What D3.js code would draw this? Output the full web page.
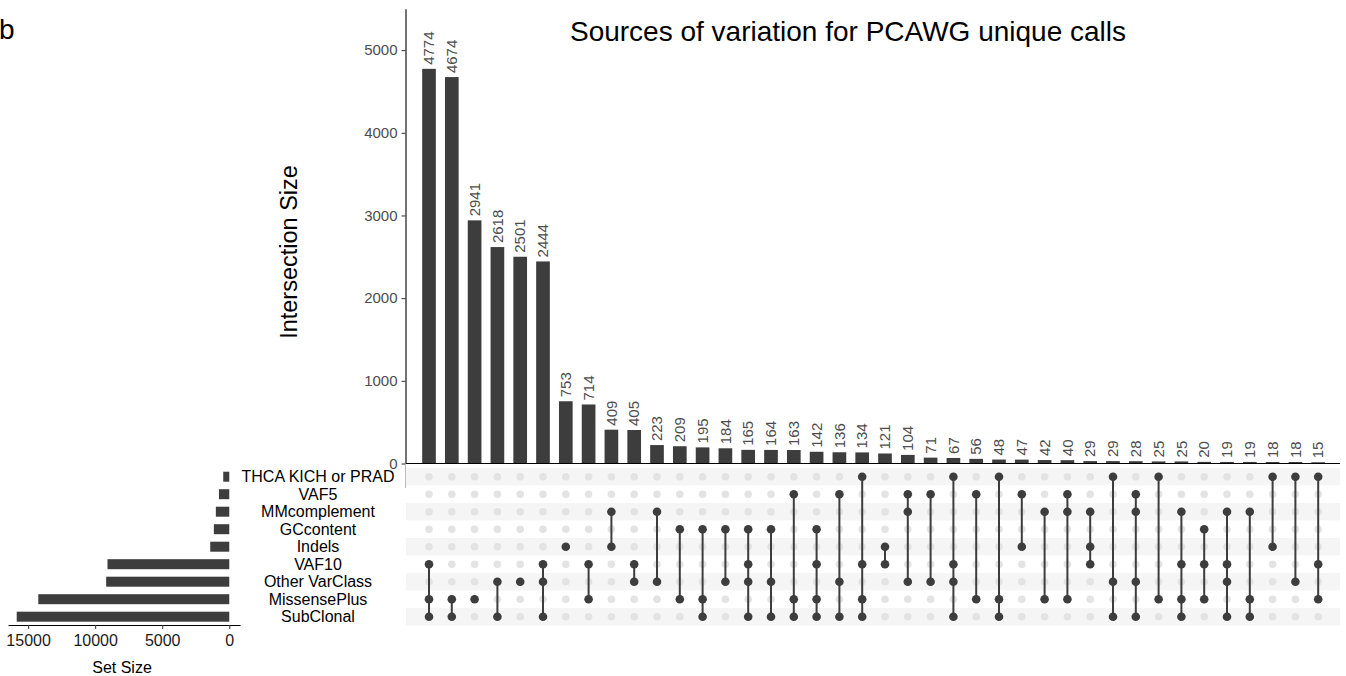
<!DOCTYPE html>
<html>
<head>
<meta charset="utf-8">
<script src="https://cdn.jsdelivr.net/npm/d3@7"></script>
<style>
  html, body { margin: 0; padding: 0; background: #fff; }
  svg { display: block; font-family: "Liberation Sans", Arial, Helvetica, sans-serif; }
</style>
</head>
<body>
<svg id="chart" width="1346" height="676"></svg>
<script>
// ---------------- DATA ----------------
const setNames = ["THCA KICH or PRAD", "VAF5", "MMcomplement", "GCcontent", "Indels",
                  "VAF10", "Other VarClass", "MissensePlus", "SubClonal"];
const setSizes = [450, 770, 1000, 1150, 1420, 9080, 9180, 14240, 15850];

const intersectionSizes = [4774, 4674, 2941, 2618, 2501, 2444, 753, 714, 409, 405,
  223, 209, 195, 184, 165, 164, 163, 142, 136, 134, 121, 104, 71, 67, 56, 48, 47,
  42, 40, 29, 29, 28, 25, 25, 20, 19, 19, 18, 18, 15];

// membership of each intersection (indices into setNames)
const intersectionMembers = [
  [5,7,8], [7,8], [7], [6,8], [6], [5,6,8], [4], [5,7], [2,4], [5,6],
  [2,6], [3,7], [3,7,8], [3,6], [3,5,6,8], [3,6,8], [1,7,8], [3,5,7,8], [1,6,8], [0,5,7,8],
  [4,5], [1,2,6], [1,6], [0,5,6,8], [1,7], [0,7,8], [1,4], [2,7], [1,2,7], [2,4,5],
  [0,6,8], [1,2,6,8], [0,7], [2,5,7,8], [3,5,7], [2,5,6,8], [2,7,8], [0,4], [0,6], [0,5,7]
];

const yTicks = [0, 1000, 2000, 3000, 4000, 5000];
const setTicks = [15000, 10000, 5000, 0];

const titleText = "Sources of variation for PCAWG unique calls";
const yTitle = "Intersection Size";
const xSetTitle = "Set Size";
const panelTag = "b";

// ---------------- DRAW ----------------
const svg = d3.select("#chart");
const dark = "#3d3d3d";

const cols = d3.range(intersectionSizes.length);
const x = d3.scaleBand().domain(cols).range([417.6, 1329.6]).paddingInner(0.4).paddingOuter(0.2);
const y = d3.scaleLinear().domain([0, 5500]).range([463.5, 8.8]);
const row = d3.scalePoint().domain(d3.range(setNames.length)).range([476.7, 616.7]);
const rowStep = row.step();
const xs = d3.scaleLinear().domain([-800, 16500]).range([240, 8]);

// tag & title
svg.append("text").attr("x", -1).attr("y", 39).attr("font-size", 28).attr("fill", "#000").text(panelTag);
svg.append("text").attr("x", 848).attr("y", 41).attr("text-anchor", "middle")
  .attr("font-size", 28).attr("fill", "#000").text(titleText);

// y axis title
svg.append("text").attr("transform", "translate(297,252) rotate(-90)")
  .attr("text-anchor", "middle").attr("font-size", 23.5).attr("fill", "#000").text(yTitle);

// intersection bars
svg.append("g").selectAll("rect").data(cols).join("rect")
  .attr("x", d => x(d)).attr("width", x.bandwidth())
  .attr("y", d => y(intersectionSizes[d]))
  .attr("height", d => y(0) - y(intersectionSizes[d]))
  .attr("fill", dark);

// bar labels
svg.append("g").selectAll("text").data(cols).join("text")
  .attr("transform", d => `translate(${x(d) + x.bandwidth() / 2},${y(intersectionSizes[d]) - 4}) rotate(-90)`)
  .attr("dy", "0.35em").attr("font-size", 15).attr("fill", "#4d4d4d")
  .text(d => intersectionSizes[d]);

// y axis
const yAxis = d3.axisLeft(y).tickValues(yTicks).tickFormat(d3.format("d"))
  .tickSize(4).tickPadding(4).tickSizeOuter(0);
const gy = svg.append("g").attr("transform", "translate(405.5,0)").call(yAxis);
gy.select(".domain").attr("stroke", "#000").attr("stroke-width", 1.1);
gy.selectAll(".tick line").attr("stroke", "#333");
gy.selectAll(".tick text").attr("font-size", 15).attr("fill", "#4d4d4d")
  .attr("font-family", "Liberation Sans, Arial, sans-serif");

// matrix stripes
svg.append("g").selectAll("rect").data(d3.range(setNames.length).filter(i => i % 2 === 0)).join("rect")
  .attr("x", 406).attr("width", 934)
  .attr("y", d => row(d) - rowStep / 2).attr("height", rowStep)
  .attr("fill", "#f5f5f5");

// x axis line of top panel
svg.append("line").attr("x1", 405.5).attr("x2", 1340).attr("y1", 463.5).attr("y2", 463.5)
  .attr("stroke", "#000").attr("stroke-width", 1.1);
svg.append("line").attr("x1", 405.5).attr("x2", 405.5).attr("y1", 463.5).attr("y2", 488)
  .attr("stroke", "#bbb").attr("stroke-width", 1);

// empty dots
const grid = [];
cols.forEach(c => d3.range(setNames.length).forEach(r => grid.push({c, r, on: intersectionMembers[c].includes(r)})));
svg.append("g").selectAll("circle").data(grid.filter(d => !d.on)).join("circle")
  .attr("cx", d => x(d.c) + x.bandwidth() / 2).attr("cy", d => row(d.r)).attr("r", 3.8)
  .attr("fill", "#e3e3e3");

// connecting lines
svg.append("g").selectAll("line").data(cols.filter(c => intersectionMembers[c].length > 1)).join("line")
  .attr("x1", c => x(c) + x.bandwidth() / 2).attr("x2", c => x(c) + x.bandwidth() / 2)
  .attr("y1", c => row(d3.min(intersectionMembers[c])))
  .attr("y2", c => row(d3.max(intersectionMembers[c])))
  .attr("stroke", dark).attr("stroke-width", 2);

// filled dots
svg.append("g").selectAll("circle").data(grid.filter(d => d.on)).join("circle")
  .attr("cx", d => x(d.c) + x.bandwidth() / 2).attr("cy", d => row(d.r)).attr("r", 4.3)
  .attr("fill", dark);

// set labels
svg.append("g").selectAll("text").data(setNames).join("text")
  .attr("x", 318).attr("y", (d, i) => row(i)).attr("dy", "0.35em")
  .attr("text-anchor", "middle").attr("font-size", 16).attr("fill", "#000")
  .text(d => d);

// set size bars
svg.append("g").selectAll("rect").data(setSizes).join("rect")
  .attr("x", d => xs(d)).attr("width", d => xs(0) - xs(d))
  .attr("y", (d, i) => row(i) - 5).attr("height", 10)
  .attr("fill", dark);

// set size axis
const xsAxis = d3.axisBottom(xs).tickValues(setTicks).tickFormat(d3.format("d"))
  .tickSize(4).tickPadding(6).tickSizeOuter(0);
const gx = svg.append("g").attr("transform", "translate(0,625)").call(xsAxis);
gx.select(".domain").attr("stroke", "#000").attr("stroke-width", 1.1);
gx.selectAll(".tick line").attr("stroke", "#333");
gx.selectAll(".tick text").attr("font-size", 16).attr("fill", "#1a1a1a")
  .attr("font-family", "Liberation Sans, Arial, sans-serif");

svg.append("text").attr("x", 122).attr("y", 673).attr("text-anchor", "middle")
  .attr("font-size", 16).attr("fill", "#000").text(xSetTitle);
</script>
</body>
</html>
